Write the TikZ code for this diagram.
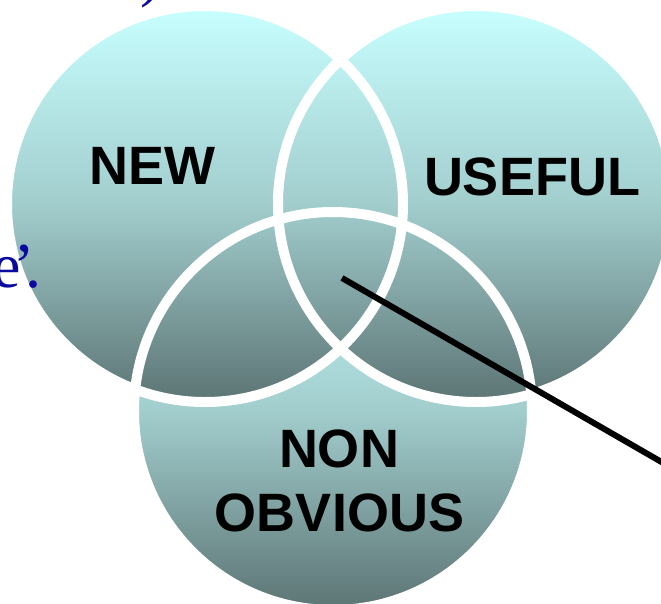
\documentclass[tikz,border=0pt]{standalone}
\usepackage{fontspec}
\setmainfont{Liberation Serif}
\newfontfamily\labelfont{Liberation Sans}
\definecolor{topc}{HTML}{C8FFFF}
\definecolor{midc}{HTML}{A2CDCD}
\definecolor{botc}{HTML}{5C7474}
\definecolor{slideblue}{HTML}{0A0A9E}
\tikzset{
  venn/.style={top color=topc, bottom color=botc, middle color=midc},
  ring/.style={draw=white, line width=10pt},
  vlabel/.style={font=\labelfont\bfseries\fontsize{54}{64}\selectfont, text=black, anchor=base, inner sep=0pt},
  bgtext/.style={font=\fontsize{64}{70}\selectfont, text=slideblue, anchor=base west, inner sep=0pt},
  pointer/.style={draw=black, line width=6pt}
}
\begin{document}
\begin{tikzpicture}[x=1pt,y=-1pt]
\useasboundingbox (0,0) rectangle (661,603);
\clip (0,0) rectangle (661,603);
\coordinate (cL) at (205,204);
\coordinate (cR) at (476,204);
\coordinate (cB) at (333,411);
\shade[venn] (cB) circle[radius=199pt];
\shade[venn] (cL) circle[radius=198pt];
\shade[venn] (cR) circle[radius=198pt];
\draw[ring] (cB) circle[radius=199pt];
\draw[ring] (cL) circle[radius=198pt];
\draw[ring] (cR) circle[radius=198pt];
\node[bgtext] (paren) at (140,-6) {)};
\node[bgtext] (etext) at (-7.5,287) {e\kern-8pt’\kern-9pt.};
\node[vlabel] (new) at (152.5,184) {NEW};
\node[vlabel] (useful) at (532,195) {USEFUL};
\node[vlabel] (non) at (339,467) {NON};
\node[vlabel] (obvious) at (339.5,531) {OBVIOUS};
\coordinate (pstart) at (342,278);
\coordinate (pend) at (672,468);
\draw[pointer] (pstart) -- (pend);
\end{tikzpicture}
\end{document}
